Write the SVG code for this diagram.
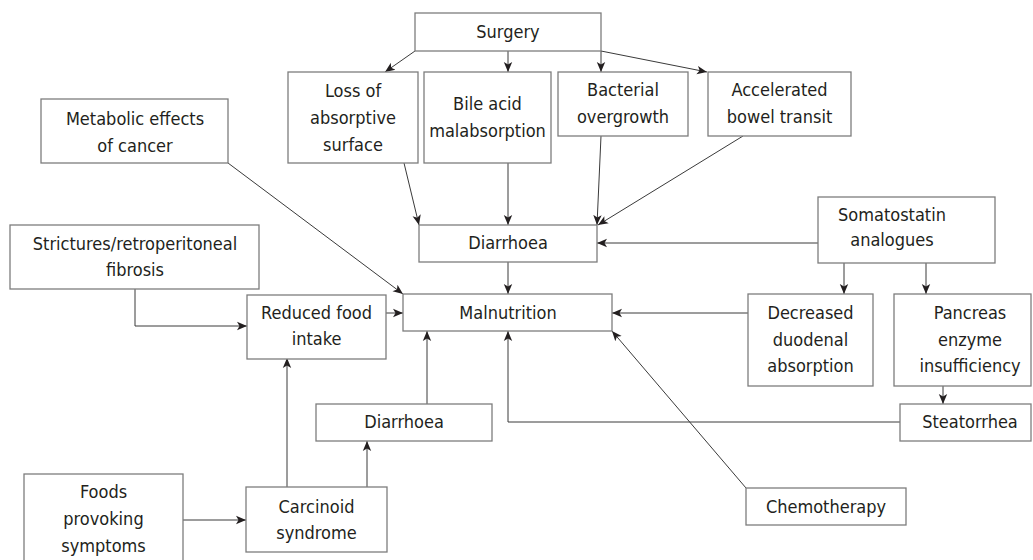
<svg xmlns="http://www.w3.org/2000/svg" width="1033" height="560" viewBox="0 0 1033 560">
<style>
.box{fill:#fff;stroke:#7d7d7d;stroke-width:1.3}
.t{font-family:"DejaVu Sans Condensed","DejaVu Sans",sans-serif;font-stretch:condensed;font-size:18px;fill:#231f20;text-anchor:middle}
.c{fill:none;stroke:#3a3a3a;stroke-width:1;marker-end:url(#ah)}
</style>
<defs>
<marker id="ah" viewBox="0 0 10 10" refX="10" refY="5" markerWidth="10" markerHeight="10" markerUnits="userSpaceOnUse" orient="auto">
<path d="M0,0.8 L10,5 L0,9.2 L2.5,5 z" fill="#231f20"/>
</marker>
</defs>
<rect width="1033" height="560" fill="#fff"/>
<g id="connectors">
<line class="c" x1="415" y1="51" x2="385" y2="72"/>
<line class="c" x1="508" y1="51" x2="508" y2="72"/>
<line class="c" x1="601" y1="51" x2="601" y2="72"/>
<line class="c" x1="601" y1="51" x2="707" y2="72"/>
<line class="c" x1="404" y1="163" x2="419" y2="225"/>
<line class="c" x1="508" y1="163" x2="508" y2="225"/>
<line class="c" x1="601" y1="136" x2="597" y2="225"/>
<line class="c" x1="743" y1="136" x2="598" y2="225"/>
<line class="c" x1="818" y1="243" x2="597" y2="243"/>
<line class="c" x1="508" y1="262" x2="508" y2="294"/>
<line class="c" x1="228" y1="163" x2="403" y2="294"/>
<polyline class="c" points="135,289 135,326 247,326"/>
<line class="c" x1="385" y1="313" x2="403" y2="313"/>
<line class="c" x1="844" y1="263" x2="844" y2="294"/>
<line class="c" x1="926" y1="263" x2="926" y2="294"/>
<line class="c" x1="748" y1="313" x2="612" y2="313"/>
<line class="c" x1="943" y1="386" x2="943" y2="404"/>
<polyline class="c" points="900,422 508,422 508,331"/>
<line class="c" x1="746" y1="488" x2="612" y2="331"/>
<line class="c" x1="427" y1="404" x2="427" y2="331"/>
<line class="c" x1="367" y1="487" x2="367" y2="441"/>
<line class="c" x1="287" y1="487" x2="287" y2="358"/>
<line class="c" x1="183" y1="520" x2="246" y2="520"/>
</g>
<g id="surgery"><rect class="box" x="415" y="13" width="186" height="38"/><text class="t" x="508" y="38">Surgery</text></g>
<g id="loss"><rect class="box" x="288" y="72" width="130" height="91"/><text class="t" x="353" y="97">Loss of</text><text class="t" x="353" y="124">absorptive</text><text class="t" x="353" y="151">surface</text></g>
<g id="bile"><rect class="box" x="424" y="72" width="127" height="91"/><text class="t" x="487.5" y="110">Bile acid</text><text class="t" x="487.5" y="137">malabsorption</text></g>
<g id="bacterial"><rect class="box" x="558" y="72" width="130" height="64"/><text class="t" x="623" y="96">Bacterial</text><text class="t" x="623" y="123">overgrowth</text></g>
<g id="accelerated"><rect class="box" x="708" y="72" width="143" height="64"/><text class="t" x="779.5" y="96">Accelerated</text><text class="t" x="779.5" y="123">bowel transit</text></g>
<g id="metabolic"><rect class="box" x="41" y="99" width="187" height="64"/><text class="t" x="135" y="125">Metabolic effects</text><text class="t" x="135" y="152">of cancer</text></g>
<g id="diarrhoea1"><rect class="box" x="419" y="225" width="178" height="37"/><text class="t" x="508" y="249">Diarrhoea</text></g>
<g id="somatostatin"><rect class="box" x="818" y="197" width="177" height="66"/><text class="t" x="892" y="221">Somatostatin</text><text class="t" x="892" y="246">analogues</text></g>
<g id="strictures"><rect class="box" x="10" y="225" width="249" height="64"/><text class="t" x="135" y="250">Strictures/retroperitoneal</text><text class="t" x="135" y="276">fibrosis</text></g>
<g id="reduced"><rect class="box" x="247" y="295" width="139" height="64"/><text class="t" x="316.5" y="319">Reduced food</text><text class="t" x="316.5" y="345">intake</text></g>
<g id="malnutrition"><rect class="box" x="403" y="294" width="209" height="37"/><text class="t" x="508" y="319">Malnutrition</text></g>
<g id="decreased"><rect class="box" x="748" y="294" width="125" height="92"/><text class="t" x="810.5" y="319">Decreased</text><text class="t" x="810.5" y="346">duodenal</text><text class="t" x="810.5" y="372">absorption</text></g>
<g id="pancreas"><rect class="box" x="894" y="294" width="137" height="92"/><text class="t" x="970" y="319">Pancreas</text><text class="t" x="970" y="346">enzyme</text><text class="t" x="970" y="372">insufficiency</text></g>
<g id="steatorrhea"><rect class="box" x="900" y="404" width="131" height="37"/><text class="t" x="970" y="428">Steatorrhea</text></g>
<g id="diarrhoea2"><rect class="box" x="316" y="404" width="176" height="37"/><text class="t" x="404" y="428">Diarrhoea</text></g>
<g id="chemotherapy"><rect class="box" x="746" y="488" width="160" height="37"/><text class="t" x="826" y="513">Chemotherapy</text></g>
<g id="foods"><rect class="box" x="24" y="474" width="159" height="90"/><text class="t" x="103.5" y="498">Foods</text><text class="t" x="103.5" y="525">provoking</text><text class="t" x="103.5" y="552">symptoms</text></g>
<g id="carcinoid"><rect class="box" x="246" y="487" width="141" height="65"/><text class="t" x="316.5" y="513">Carcinoid</text><text class="t" x="316.5" y="539">syndrome</text></g>
</svg>
